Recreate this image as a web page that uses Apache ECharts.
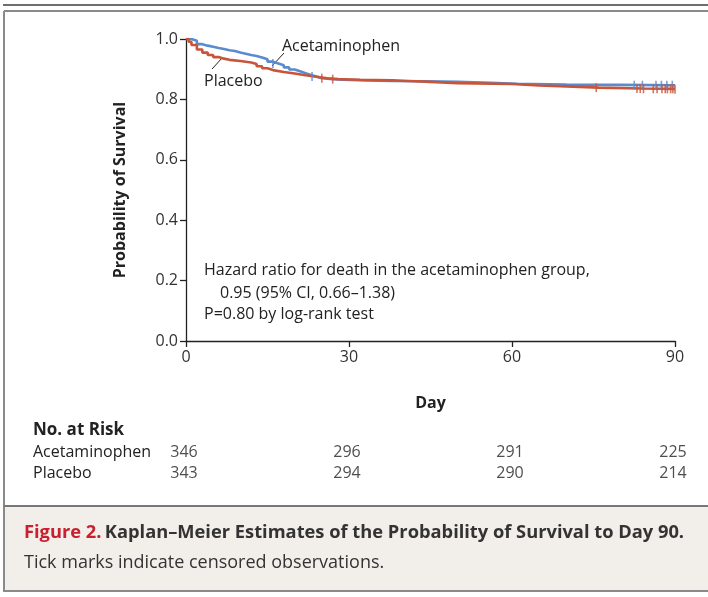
<!DOCTYPE html>
<html>
<head>
<meta charset="utf-8">
<script src="https://cdn.jsdelivr.net/npm/echarts@6/dist/echarts.min.js"></script>
<style>
  html, body { margin: 0; padding: 0; background: #fff; }
  #chart { width: 708px; height: 597px; }
</style>
</head>
<body>
<div id="chart"></div>
<script>
// Kaplan-Meier steps
var acetDays = [0, 1, 2, 3, 4, 5, 6, 7, 8, 9, 10, 11, 12, 13, 14, 15, 16, 17, 18, 19, 20, 21, 22, 23, 24, 25, 27, 29, 33, 38, 44, 50, 56, 61, 70, 80, 90];
var acetSurv = [1.0, 0.994, 0.983, 0.978, 0.974, 0.970, 0.967, 0.963, 0.960, 0.955, 0.951, 0.947, 0.944, 0.939, 0.933, 0.925, 0.919, 0.913, 0.906, 0.899, 0.893, 0.887, 0.881, 0.876, 0.870, 0.867, 0.865, 0.863, 0.861, 0.860, 0.858, 0.855, 0.852, 0.849, 0.848, 0.847, 0.845];
var placDays = [0, 0.5, 1, 2, 3, 4, 5, 6, 7, 8, 10, 12, 13, 14, 15, 16, 18, 20, 22, 24, 26, 28, 32, 38, 41, 45, 50, 60, 65, 70, 76, 84, 90];
var placSurv = [1.0, 0.991, 0.980, 0.965, 0.955, 0.947, 0.940, 0.935, 0.931, 0.927, 0.922, 0.917, 0.910, 0.903, 0.897, 0.891, 0.886, 0.880, 0.875, 0.870, 0.867, 0.865, 0.863, 0.861, 0.858, 0.854, 0.851, 0.846, 0.843, 0.839, 0.836, 0.835, 0.834];

// censored observations (days)
var acetCensor = [16, 23.2, 82.5, 84, 86.5, 87.5, 88.5, 89.5];
var placCensor = [25, 27, 75.5, 83, 83.6, 84.2, 86, 86.7, 87.6, 88.2, 88.6, 89.2, 89.6, 90];

// number at risk
var riskDays = [0, 30, 60, 90];
var riskGroups = ['Acetaminophen', 'Placebo'];
var acetRisk = [346, 296, 291, 225];
var placRisk = [343, 294, 290, 214];

var blue = '#5b8bcf', red = '#c8553a';
var font = '"Open Sans"';

function pairs(xs, ys) {
  return xs.map(function (x, i) { return [x, ys[i]]; });
}
function survAt(days, surv, d) {
  var v = surv[0];
  for (var i = 0; i < days.length; i++) {
    if (days[i] <= d) v = surv[i];
  }
  return v;
}

var chart = echarts.init(document.getElementById('chart'));

var option = {
  animation: false,
  textStyle: { fontFamily: font },
  grid: [
    { left: 186, right: 33, top: 39, height: 302 },
    { left: 186, right: 33, top: 442, height: 42 }
  ],
  xAxis: [
    {
      gridIndex: 0, type: 'value', min: 0, max: 90, interval: 30,
      name: 'Day', nameLocation: 'middle', nameGap: 54,
      nameTextStyle: { fontFamily: font, fontSize: 16, fontWeight: 'bold', color: '#222' },
      axisLine: { lineStyle: { color: '#222', width: 1.3 } },
      axisTick: { show: true, length: 6, lineStyle: { color: '#222', width: 1.3 } },
      axisLabel: { fontFamily: font, fontSize: 16, color: '#333', margin: 8 },
      splitLine: { show: false }
    },
    {
      gridIndex: 1, type: 'value', min: 0, max: 90, show: false
    }
  ],
  yAxis: [
    {
      gridIndex: 0, type: 'value', min: 0, max: 1, interval: 0.2,
      name: 'Probability of Survival', nameLocation: 'middle', nameGap: 58, nameRotate: 90,
      nameTextStyle: { fontFamily: font, fontSize: 16, fontWeight: 'bold', color: '#222' },
      axisLine: { show: true, lineStyle: { color: '#222', width: 1.3 } },
      axisTick: { show: true, length: 6, lineStyle: { color: '#222', width: 1.3 } },
      axisLabel: { fontFamily: font, fontSize: 16, color: '#333', margin: 8,
        formatter: function (v) { return v.toFixed(1); } },
      splitLine: { show: false }
    },
    {
      gridIndex: 1, type: 'category', data: riskGroups, inverse: true,
      axisLine: { show: false }, axisTick: { show: false },
      axisLabel: { fontFamily: font, fontSize: 16, color: '#222', align: 'left', margin: 153 }
    }
  ],
  series: [
    {
      name: 'Placebo', type: 'line', step: 'end', showSymbol: false,
      data: pairs(placDays, placSurv),
      lineStyle: { color: red, width: 2.6 }, z: 3
    },
    {
      name: 'Acetaminophen', type: 'line', step: 'end', showSymbol: false,
      data: pairs(acetDays, acetSurv),
      lineStyle: { color: blue, width: 2.6 }, z: 2
    },
    {
      type: 'scatter', symbol: 'rect', symbolSize: [1.6, 9],
      itemStyle: { color: blue }, z: 4,
      data: acetCensor.map(function (d) { return [d, survAt(acetDays, acetSurv, d)]; })
    },
    {
      type: 'scatter', symbol: 'rect', symbolSize: [1.6, 9],
      itemStyle: { color: red }, z: 5,
      data: placCensor.map(function (d) { return [d, survAt(placDays, placSurv, d)]; })
    },
    {
      type: 'scatter', xAxisIndex: 1, yAxisIndex: 1, symbolSize: 0,
      label: { show: true, position: 'inside', offset: [-2, 0], fontFamily: font, fontSize: 16, color: '#222',
        formatter: function (p) { return p.value[2]; } },
      data: riskDays.map(function (d, i) { return [d, riskGroups[0], acetRisk[i]]; })
        .concat(riskDays.map(function (d, i) { return [d, riskGroups[1], placRisk[i]]; }))
    }
  ],
  graphic: [
    // frame
    { type: 'line', shape: { x1: 3, y1: 5, x2: 708, y2: 5 }, style: { stroke: '#6e6e6e', lineWidth: 2 } },
    { type: 'line', shape: { x1: 4, y1: 11, x2: 708, y2: 11 }, style: { stroke: '#8a8a8a', lineWidth: 2 } },
    { type: 'line', shape: { x1: 4, y1: 11, x2: 4, y2: 592 }, style: { stroke: '#8a8a8a', lineWidth: 2 } },
    { type: 'rect', shape: { x: 5, y: 507, width: 703, height: 84 }, style: { fill: '#f2eee9' }, z: -1 },
    { type: 'line', shape: { x1: 4, y1: 506, x2: 708, y2: 506 }, style: { stroke: '#777', lineWidth: 2 } },
    { type: 'line', shape: { x1: 4, y1: 591, x2: 708, y2: 591 }, style: { stroke: '#8a8a8a', lineWidth: 2 } },
    // curve labels
    { type: 'text', x: 282, y: 46, style: { text: 'Acetaminophen', font: '16px ' + font, fill: '#222', textVerticalAlign: 'middle' } },
    { type: 'line', shape: { x1: 284, y1: 53, x2: 272, y2: 66 }, style: { stroke: '#222', lineWidth: 1 } },
    { type: 'text', x: 204, y: 81, style: { text: 'Placebo', font: '16px ' + font, fill: '#222', textVerticalAlign: 'middle' } },
    { type: 'line', shape: { x1: 212, y1: 69, x2: 223, y2: 57 }, style: { stroke: '#222', lineWidth: 1 } },
    // hazard ratio note
    { type: 'text', x: 204, y: 270, style: { text: 'Hazard ratio for death in the acetaminophen group,', font: '16px ' + font, fill: '#222', textVerticalAlign: 'middle' } },
    { type: 'text', x: 220, y: 293, style: { text: '0.95 (95% CI, 0.66\u20131.38)', font: '16px ' + font, fill: '#222', textVerticalAlign: 'middle' } },
    { type: 'text', x: 204, y: 314, style: { text: 'P=0.80 by log-rank test', font: '16px ' + font, fill: '#222', textVerticalAlign: 'middle' } },
    // risk table header
    { type: 'text', x: 33, y: 430, style: { text: 'No. at Risk', font: 'bold 17px ' + font, fill: '#222', textVerticalAlign: 'middle' } },
    // caption
    { type: 'text', x: 24, y: 533, style: {
        text: '{r|Figure 2.} {b|Kaplan\u2013Meier Estimates of the Probability of Survival to Day 90.}',
        textVerticalAlign: 'middle',
        rich: {
          r: { fontFamily: font, fontSize: 18.3, fontWeight: 'bold', fill: '#c8202e' },
          b: { fontFamily: font, fontSize: 18.3, fontWeight: 'bold', fill: '#333' }
        } } },
    { type: 'text', x: 24, y: 563, style: { text: 'Tick marks indicate censored observations.', font: '18px ' + font, fill: '#333', textVerticalAlign: 'middle' } }
  ]
};

chart.setOption(option);
</script>
</body>
</html>
